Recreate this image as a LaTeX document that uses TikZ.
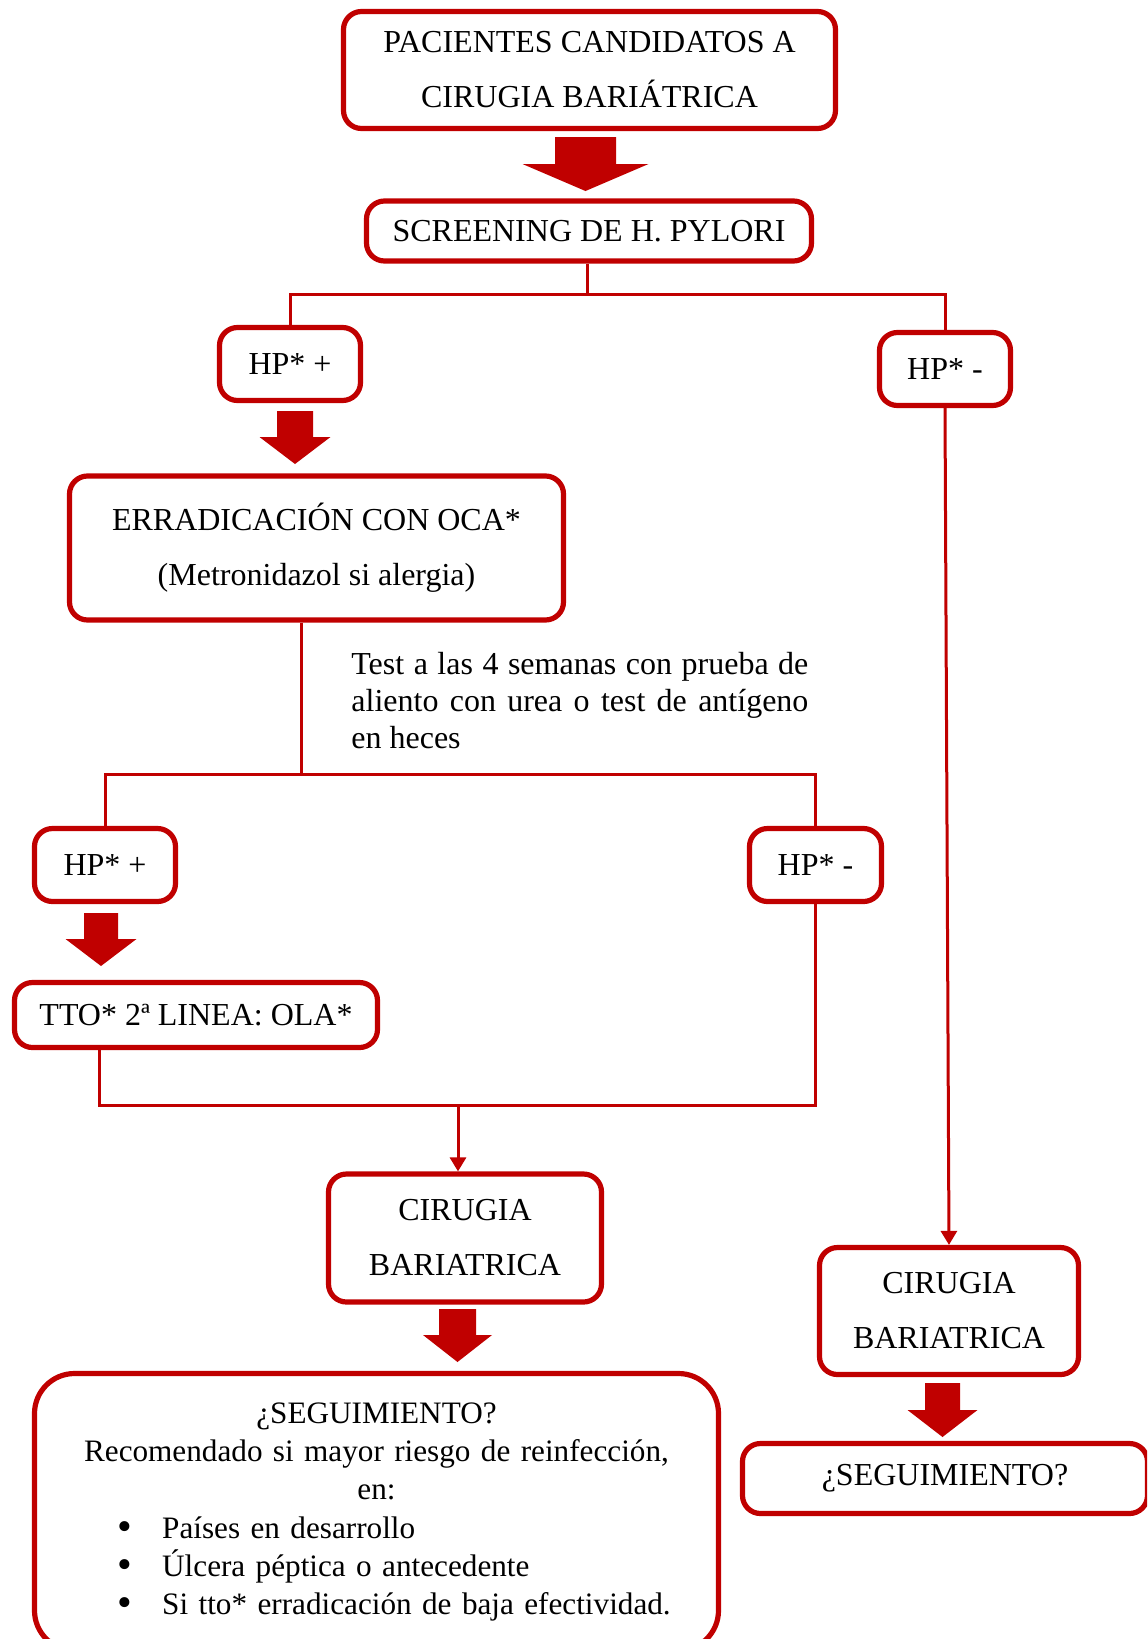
\documentclass[tikz,border=0pt]{standalone}
\usepackage{fontspec}
\setmainfont{Liberation Serif}
\usetikzlibrary{arrows.meta}
\definecolor{dred}{HTML}{C00000}
\newcommand\blkarrow[6]{\fill[dred] (#1-#3,#2) -- (#1+#3,#2) -- (#1+#3,#5) -- (#1+#4,#5) -- (#1,#6) -- (#1-#4,#5) -- (#1-#3,#5) -- cycle;}
\newcommand\bigbul{\smash{\raisebox{-1.2pt}{\fontsize{21}{19}\selectfont\textbullet}}}
\begin{document}
\begin{tikzpicture}[x=0.5pt,y=-0.5pt,
  box/.style={draw=dred, line width=2.6pt, rounded corners=9pt, fill=white, inner sep=0pt, align=center,
    font=\fontsize{16}{27.5}\selectfont},
  link/.style={draw=dred, line width=1.5pt},
  tip/.style={-{Triangle[length=7pt,width=8pt]}}]
\useasboundingbox (0,0) rectangle (1147,1639);
\clip (0,0) rectangle (1147,1639);

% boxes
\node[box, minimum width=246pt, minimum height=58.5pt] (p) at (589.5,70) {PACIENTES CANDIDATOS A\\CIRUGIA BARIÁTRICA};
\node[box, minimum width=222.5pt, minimum height=30pt] (scr) at (589,231) {SCREENING DE H. PYLORI};
\node[box, minimum width=70.5pt, minimum height=36.5pt] (hp1) at (290,364) {HP* +};
\node[box, minimum width=65.5pt, minimum height=36.5pt] (hpn) at (945,369) {HP* -};
\node[box, minimum width=247pt, minimum height=72pt] (erad) at (316.5,548) {ERRADICACIÓN CON OCA*\\(Metronidazol si alergia)};
\node[anchor=north west, inner sep=0pt, text width=228.5pt, align=justify,
  font={\fontsize{16}{18.5}\selectfont\hyphenpenalty 10000 }] (test) at (351,652)
  {Test a las 4 semanas con prueba de aliento con urea o test de antígeno en heces};
\node[box, minimum width=70.5pt, minimum height=36.5pt] (hp3) at (105,865) {HP* +};
\node[box, minimum width=66pt, minimum height=36.5pt] (hp4) at (815.5,865) {HP* -};
\node[box, minimum width=181.5pt, minimum height=32.5pt] (tto) at (196,1015) {TTO* 2ª LINEA: OLA*};
\node[box, minimum width=136.5pt, minimum height=64pt] (cir1) at (465,1238) {CIRUGIA\\BARIATRICA};
\node[box, minimum width=129.5pt, minimum height=63.5pt] (cir2) at (949,1311) {CIRUGIA\\BARIATRICA};
\node[box, minimum width=202.5pt, minimum height=35pt] (seg2) at (945,1478.5) {¿SEGUIMIENTO?};
\node[box, rounded corners=20pt, minimum width=342pt, minimum height=138.5pt, text width=330pt,
  font=\fontsize{15.6}{19.1}\selectfont] (seg) at (376.5,1512)
  {¿SEGUIMIENTO?\\Recomendado si mayor riesgo de reinfección,\\en:\\
   \makebox[330pt][l]{\hspace{35.5pt}\bigbul\hspace{15pt}Países en desarrollo}\\
   \makebox[330pt][l]{\hspace{35.5pt}\bigbul\hspace{15pt}Úlcera péptica o antecedente}\\
   \makebox[330pt][l]{\hspace{35.5pt}\bigbul\hspace{15pt}Si tto* erradicación de baja efectividad.}};

% thin connectors
\coordinate (s1) at (587,294);
\draw[link] (scr.south -| s1) -- (s1);
\draw[link] (hp1.north) |- (s1) -| (hpn.north);
\coordinate (s2) at (301,774);
\draw[link] (erad.south -| s2) -- (s2);
\draw[link] (hp3.north) |- (s2) -| (hp4.north);
\coordinate (j3) at (99,1105);
\coordinate (s3) at (458,1105);
\draw[link] (tto.south -| j3) -- (j3) -- (j3 -| hp4.south) -- (hp4.south);
\draw[link, tip] (s3) -- (s3 |- cir1.north);
\draw[link, tip] (hpn.south) -- (cir2.north);

% block arrows
\blkarrow{585.5}{137}{30.5}{63}{164}{191}
\blkarrow{295}{411}{18}{35.5}{437}{464}
\blkarrow{101}{913}{17}{35.5}{939}{966}
\blkarrow{457.5}{1309}{18.5}{34.5}{1335}{1362}
\blkarrow{942.5}{1383}{17.5}{35}{1410}{1437}
\end{tikzpicture}
\end{document}
